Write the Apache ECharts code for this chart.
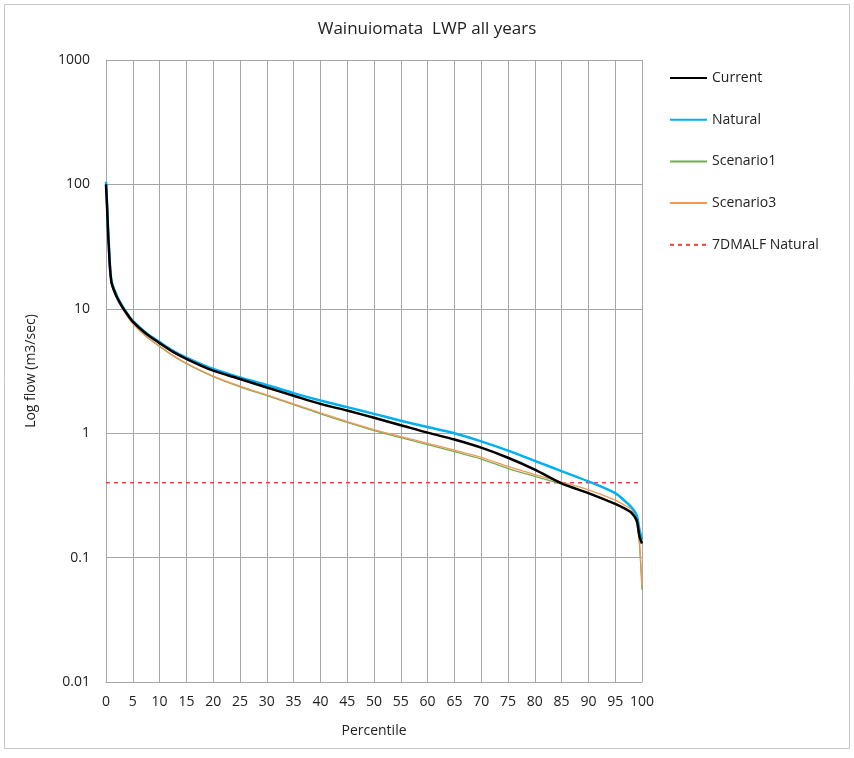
<!DOCTYPE html>
<html>
<head>
<meta charset="utf-8">
<script src="https://cdn.jsdelivr.net/npm/echarts@6/dist/echarts.min.js"></script>
<style>
html,body{margin:0;padding:0;background:#fff;}
#chart{width:854px;height:758px;}
</style>
</head>
<body>
<div id="chart"></div>
<script>
const percentiles = [0, 0.2, 0.5, 1, 2, 3, 4, 5, 7.5, 10, 12.5, 15, 20, 25, 30, 35, 40, 45, 50, 55, 60, 65, 70, 75, 80, 85, 90, 95, 97, 98, 99, 99.5, 100];
const current   = [100, 65, 33, 16.5, 12.5, 10.4, 9.0, 7.9, 6.3, 5.3, 4.5, 3.96, 3.18, 2.73, 2.33, 2.0, 1.72, 1.52, 1.33, 1.16, 1.01, 0.89, 0.765, 0.635, 0.51, 0.395, 0.33, 0.27, 0.245, 0.23, 0.2, 0.15, 0.13];
const natural   = [105, 70, 35, 17, 12.8, 10.6, 9.1, 8.0, 6.4, 5.4, 4.6, 4.05, 3.28, 2.81, 2.44, 2.1, 1.83, 1.62, 1.43, 1.26, 1.12, 1.0, 0.86, 0.725, 0.6, 0.495, 0.41, 0.33, 0.28, 0.255, 0.22, 0.17, 0.14];
const scenario1 = [100, 65, 32, 16, 12.2, 10.2, 8.7, 7.6, 6.0, 5.0, 4.2, 3.62, 2.85, 2.36, 2.0, 1.7, 1.43, 1.22, 1.05, 0.92, 0.81, 0.71, 0.62, 0.52, 0.45, 0.39, 0.33, 0.27, 0.245, 0.23, 0.19, 0.13, 0.055];
const scenario3 = [100, 65, 32, 16, 12.2, 10.2, 8.7, 7.6, 6.0, 5.0, 4.2, 3.65, 2.88, 2.39, 2.03, 1.72, 1.46, 1.24, 1.07, 0.94, 0.83, 0.73, 0.64, 0.54, 0.465, 0.405, 0.35, 0.29, 0.26, 0.245, 0.2, 0.14, 0.06];
const malfPercentiles = [0, 100];
const malfNatural = [0.4, 0.4];
const xTicks = [0, 5, 10, 15, 20, 25, 30, 35, 40, 45, 50, 55, 60, 65, 70, 75, 80, 85, 90, 95, 100];
const yTicks = ['0.01', '0.1', '1', '10', '100', '1000'];

const pair = (xs, ys) => xs.map((x, i) => [x, ys[i]]);
const FONT = 'Open Sans';

const chart = echarts.init(document.getElementById('chart'));
chart.setOption({
  animation: false,
  backgroundColor: '#fff',
  textStyle: { fontFamily: FONT },
  title: {
    text: 'Wainuiomata  LWP all years',
    left: 'center', top: 16,
    textStyle: { fontFamily: FONT, fontSize: 17, fontWeight: 'normal', color: '#222' }
  },
  graphic: [{
    type: 'rect', silent: true, z: -1,
    shape: { x: 4.5, y: 4.5, width: 845, height: 744 },
    style: { fill: null, stroke: '#c6c6c6', lineWidth: 1 }
  }],
  legend: {
    orient: 'vertical', left: 664, top: 66, itemGap: 27.7,
    itemWidth: 37, itemHeight: 14,
    itemStyle: { opacity: 0 },
    textStyle: { fontFamily: FONT, fontSize: 14, color: '#222' },
    data: ['Current', 'Natural', 'Scenario1', 'Scenario3', '7DMALF Natural']
  },
  grid: { left: 106, right: 212, top: 60, bottom: 76, containLabel: false },
  xAxis: {
    type: 'value', min: 0, max: 100, interval: 5,
    name: 'Percentile', nameLocation: 'middle', nameGap: 42,
    nameTextStyle: { fontFamily: FONT, fontSize: 14, color: '#222' },
    axisLine: { show: true, lineStyle: { color: '#a6a6a6' } },
    axisTick: { show: false },
    axisLabel: { fontFamily: FONT, fontSize: 14, color: '#222', margin: 13,
      formatter: v => (xTicks.indexOf(v) >= 0 ? String(v) : '') },
    splitLine: { show: true, lineStyle: { color: '#a6a6a6', width: 1 } }
  },
  yAxis: {
    type: 'log', logBase: 10, min: 0.01, max: 1000,
    name: 'Log flow (m3/sec)', nameLocation: 'middle', nameGap: 68, nameRotate: 90,
    nameTextStyle: { fontFamily: FONT, fontSize: 14, color: '#222' },
    axisLine: { show: true, lineStyle: { color: '#a6a6a6' } },
    axisTick: { show: false },
    axisLabel: { fontFamily: FONT, fontSize: 14, color: '#222', margin: 16,
      formatter: v => { const s = String(+v.toPrecision(3)); return yTicks.indexOf(s) >= 0 ? s : ''; } },
    splitLine: { show: true, lineStyle: { color: '#a6a6a6', width: 1 } },
    minorSplitLine: { show: false }
  },
  series: [
    { name: 'Current', type: 'line', symbol: 'none', smooth: 0.3, data: pair(percentiles, current),
      lineStyle: { color: '#000000', width: 2.5 }, itemStyle: { color: '#000000' }, z: 4 },
    { name: 'Natural', type: 'line', symbol: 'none', smooth: 0.3, data: pair(percentiles, natural),
      lineStyle: { color: '#00b0f0', width: 2.5 }, itemStyle: { color: '#00b0f0' }, z: 3 },
    { name: 'Scenario1', type: 'line', symbol: 'none', smooth: 0.3, data: pair(percentiles, scenario1),
      lineStyle: { color: '#77ac4b', width: 1.3 }, itemStyle: { color: '#77ac4b' }, z: 2 },
    { name: 'Scenario3', type: 'line', symbol: 'none', smooth: 0.3, data: pair(percentiles, scenario3),
      lineStyle: { color: '#f0975a', width: 1.3 }, itemStyle: { color: '#f0975a' }, z: 2 },
    { name: '7DMALF Natural', type: 'line', symbol: 'none', data: pair(malfPercentiles, malfNatural),
      lineStyle: { color: '#f23b3b', width: 1.5, type: [4, 4] }, itemStyle: { color: '#f23b3b' }, z: 1 }
  ]
});
</script>
</body>
</html>
